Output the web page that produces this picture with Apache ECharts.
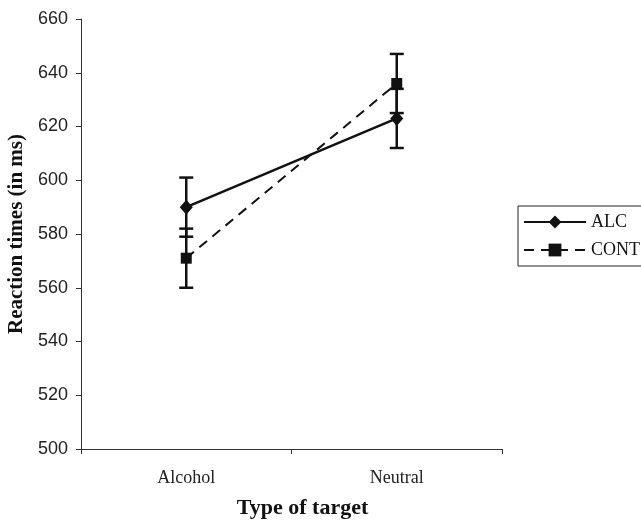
<!DOCTYPE html>
<html><head><meta charset="utf-8">
<script src="https://cdn.jsdelivr.net/npm/echarts@6/dist/echarts.min.js"></script>
<style>html,body{margin:0;padding:0;background:#fff}#c{width:641px;height:522px}</style>
</head><body><div id="c"></div>
<script>
var categories = ['Alcohol', 'Neutral'];
var alcMeans = [590, 623];
var alcErr = [11, 11];
var contMeans = [571, 636];
var contErr = [11, 11];
var yTicks = [500, 520, 540, 560, 580, 600, 620, 640, 660];

function errData(means, errs) {
  return means.map(function (m, i) { return [i, m - errs[i], m + errs[i]]; });
}
function errRender(params, api) {
  var x = api.value(0);
  var lo = api.coord([x, api.value(1)]);
  var hi = api.coord([x, api.value(2)]);
  var w = 7;
  var st = { stroke: '#111', lineWidth: 2.5 };
  return { type: 'group', children: [
    { type: 'line', shape: { x1: lo[0], y1: lo[1], x2: hi[0], y2: hi[1] }, style: st },
    { type: 'line', shape: { x1: lo[0] - w, y1: lo[1], x2: lo[0] + w, y2: lo[1] }, style: st },
    { type: 'line', shape: { x1: hi[0] - w, y1: hi[1], x2: hi[0] + w, y2: hi[1] }, style: st }
  ]};
}

var chart = echarts.init(document.getElementById('c'), null, { renderer: 'canvas' });
chart.setOption({
  animation: false,
  backgroundColor: '#fff',
  grid: { left: 81, right: 139, top: 19, bottom: 73, containLabel: false, outerBoundsMode: 'none' },
  legend: {
    orient: 'vertical', left: 518, top: 206,
    borderColor: '#222', borderWidth: 1, padding: [7, 10, 7, 5], itemGap: 10,
    itemWidth: 62, itemHeight: 16,
    textStyle: { fontFamily: 'Liberation Serif', fontSize: 18, color: '#111' },
    data: ['ALC', 'CONT']
  },
  xAxis: {
    type: 'category', data: categories, boundaryGap: true,
    name: 'Type of target', nameLocation: 'middle', nameGap: 48,
    nameTextStyle: { fontFamily: 'Liberation Serif', fontWeight: 'bold', fontSize: 22, color: '#111', padding: [0, 0, 0, 22] },
    axisLine: { lineStyle: { color: '#333', width: 1 } },
    axisTick: { show: true, length: 5, inside: false, lineStyle: { color: '#333' } },
    axisLabel: { margin: 20, fontFamily: 'Liberation Serif', fontSize: 18, color: '#222' }
  },
  yAxis: {
    type: 'value', min: 500, max: 660, interval: 20,
    name: 'Reaction times (in ms)', nameLocation: 'middle', nameGap: 53,
    nameTextStyle: { fontFamily: 'Liberation Serif', fontWeight: 'bold', fontSize: 21, color: '#111' },
    axisLine: { show: true, lineStyle: { color: '#333', width: 1 } },
    axisTick: { show: true, length: 5, lineStyle: { color: '#333' } },
    splitLine: { show: false },
    axisLabel: { margin: 13, fontFamily: 'Liberation Sans', fontSize: 18, color: '#222',
      formatter: function (v) { return yTicks.indexOf(v) >= 0 ? String(v) : ''; } }
  },
  series: [
    { name: 'ALC', type: 'line', data: alcMeans, symbol: 'diamond', symbolSize: [13, 15],
      itemStyle: { color: '#111' }, lineStyle: { color: '#111', width: 2.5, type: 'solid' }, z: 3 },
    { name: 'CONT', type: 'line', data: contMeans, symbol: 'rect', symbolSize: 11,
      itemStyle: { color: '#111' }, lineStyle: { color: '#111', width: 2, type: [10, 7] }, z: 3 },
    { type: 'custom', renderItem: errRender, data: errData(alcMeans, alcErr), z: 4, silent: true },
    { type: 'custom', renderItem: errRender, data: errData(contMeans, contErr), z: 4, silent: true }
  ]
});
</script></body></html>
